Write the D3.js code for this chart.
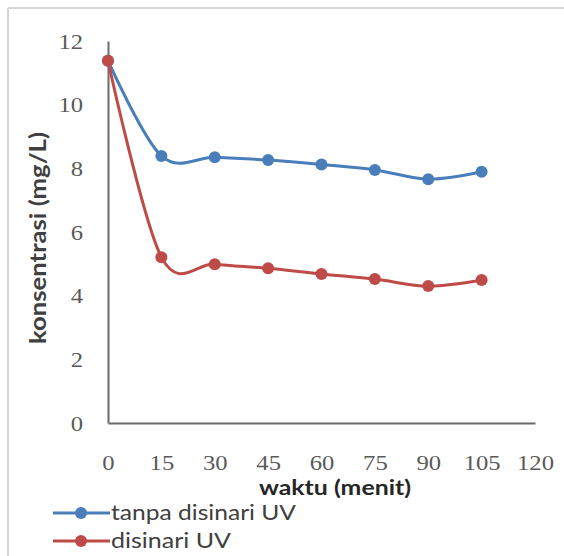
<!DOCTYPE html>
<html>
<head>
<meta charset="utf-8">
<script src="https://cdn.jsdelivr.net/npm/d3@7/dist/d3.min.js"></script>
<style>
  html, body { margin: 0; padding: 0; background: #fff; }
  svg { display: block; }
</style>
</head>
<body>
<svg id="chart" width="564" height="556"></svg>
<script>
// Sampling times (minutes)
const waktu = [0, 15, 30, 45, 60, 75, 90, 105];
// Concentration without UV (mg/L)
const tanpaUV = [11.38, 8.39, 8.35, 8.26, 8.12, 7.95, 7.66, 7.89];
// Concentration with UV (mg/L)
const denganUV = [11.38, 5.21, 4.99, 4.86, 4.68, 4.52, 4.30, 4.49];
const xTicks = [0, 15, 30, 45, 60, 75, 90, 105, 120];
const yTicks = [0, 2, 4, 6, 8, 10, 12];
const seriesNames = ["tanpa disinari UV", "disinari UV"];

const colors = ["#4A7EBB", "#BE4B48"];

const svg = d3.select("#chart");

// Frame of the chart area
svg.append("line").attr("x1", 8).attr("x2", 564).attr("y1", 8).attr("y2", 8)
  .attr("stroke", "#d4d4d4").attr("stroke-width", 2);
svg.append("line").attr("x1", 8).attr("x2", 8).attr("y1", 8).attr("y2", 556)
  .attr("stroke", "#d4d4d4").attr("stroke-width", 2);

const x = d3.scaleLinear().domain([0, 120]).range([108, 535]);
const y = d3.scaleLinear().domain([0, 12]).range([423, 41]);

const tickFont = "'Liberation Serif', 'DejaVu Serif', serif";
const labelFont = "Lato, 'Open Sans', sans-serif";

// Widen glyphs slightly so the labels keep the chart's wide proportions
function widen(sel, k) {
  sel.each(function () {
    const w = this.getComputedTextLength();
    d3.select(this).attr("textLength", w * k).attr("lengthAdjust", "spacingAndGlyphs");
  });
}

// X axis
const xAxis = svg.append("g").attr("transform", `translate(0,${y(0)})`)
  .call(d3.axisBottom(x).tickValues(xTicks).tickSize(0).tickPadding(31));
xAxis.select(".domain").attr("stroke", "#6b6b6b").attr("stroke-width", 2);
xAxis.selectAll("text").attr("font-family", tickFont).attr("font-size", 22)
  .attr("fill", "#595959").call(widen, 1.12);

// Y axis
const yAxis = svg.append("g").attr("transform", `translate(${x(0)},0)`)
  .call(d3.axisLeft(y).tickValues(yTicks).tickSize(0).tickPadding(25));
yAxis.select(".domain").attr("stroke", "#6b6b6b").attr("stroke-width", 2);
yAxis.selectAll("text").attr("font-family", tickFont).attr("font-size", 22)
  .attr("fill", "#595959").call(widen, 1.12);

// Axis titles
svg.append("text").attr("x", 335).attr("y", 495).attr("text-anchor", "middle")
  .attr("font-family", labelFont).attr("font-weight", "bold").attr("font-size", 20)
  .attr("fill", "#262626").attr("textLength", 152).attr("lengthAdjust", "spacingAndGlyphs")
  .text("waktu (menit)");
svg.append("text").attr("transform", "translate(46,238) rotate(-90)")
  .attr("text-anchor", "middle").attr("font-family", labelFont)
  .attr("font-weight", "bold").attr("font-size", 22).attr("fill", "#404040")
  .attr("textLength", 212).attr("lengthAdjust", "spacingAndGlyphs")
  .text("konsentrasi (mg/L)");

// Smoothed series
const line = d3.line()
  .x((d, i) => x(waktu[i]))
  .y(d => y(d))
  .curve(d3.curveCardinal.tension(0));

const series = [tanpaUV, denganUV];
series.forEach((vals, s) => {
  const g = svg.append("g");
  g.append("path").datum(vals).attr("d", line).attr("fill", "none")
    .attr("stroke", colors[s]).attr("stroke-width", 3);
  g.selectAll("circle").data(vals).join("circle")
    .attr("cx", (d, i) => x(waktu[i])).attr("cy", d => y(d)).attr("r", 6)
    .attr("fill", colors[s]);
});

// Legend
const legendLen = [185, 120];
seriesNames.forEach((name, s) => {
  const ly = 513 + s * 28;
  svg.append("line").attr("x1", 53).attr("x2", 110).attr("y1", ly).attr("y2", ly)
    .attr("stroke", colors[s]).attr("stroke-width", 3);
  svg.append("circle").attr("cx", 81).attr("cy", ly).attr("r", 6).attr("fill", colors[s]);
  svg.append("text").attr("x", 111).attr("y", ly + 7).attr("font-family", labelFont)
    .attr("font-size", 21).attr("fill", "#404040")
    .attr("textLength", legendLen[s]).attr("lengthAdjust", "spacingAndGlyphs")
    .text(name);
});
</script>
</body>
</html>
